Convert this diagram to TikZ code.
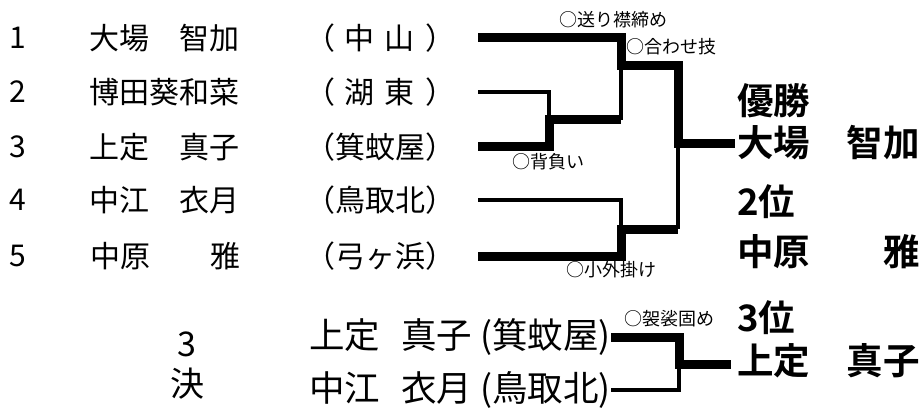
\documentclass[tikz,border=0pt]{standalone}
\usepackage{fontspec}
\setmainfont{Noto Sans CJK JP}[BoldFont={Noto Sans CJK JP Bold}]
\usepackage{tikz}
\usetikzlibrary{positioning,calc}
\tikzset{
  entry/.style={font=\fontsize{30}{36}\selectfont, inner sep=0pt},
  pair/.style={font=\fontsize{35.5}{40}\selectfont, inner sep=0pt, anchor=east},
  result/.style={font=\fontsize{36.5}{44}\selectfont\bfseries, inner sep=0pt, anchor=west},
  waza/.style={font=\fontsize{18}{22}\selectfont, inner sep=0pt, anchor=west},
  win/.style={line width=9pt},
  lose/.style={line width=3.5pt},
}

\begin{document}
\begin{tikzpicture}[x=1pt,y=-1pt]
        \useasboundingbox (0,0) rectangle (924,409);

        % entries
        \node[entry] (n1) at (18,38) {1};
        \node[entry] (n2) at (18,92) {2};
        \node[entry] (n3) at (18,147) {3};
        \node[entry] (n4) at (18,200) {4};
        \node[entry] (n5) at (18,256) {5};
        \node[entry] (p1) at (164,38) {大場　智加};
        \node[entry] (p2) at (164,92) {博田葵和菜};
        \node[entry] (p3) at (164,147) {上定　真子};
        \node[entry] (p4) at (164,200) {中江　衣月};
        \node[entry] (p5) at (165,256) {中原　　雅};
        \node[entry] (s1) at (380,38) {（\hspace{10pt}中\hspace{10pt}山\hspace{10pt}）};
        \node[entry] (s2) at (380,92) {（\hspace{10pt}湖\hspace{10pt}東\hspace{10pt}）};
        \node[entry] (s3) at (380,147) {（箕蚊屋）};
        \node[entry] (s4) at (380,200) {（鳥取北）};
        \node[entry] (s5) at (380,256) {（弓ヶ浜）};

        \coordinate (l1) at (478,38);
        \coordinate (l2) at (478,92);
        \coordinate (l3) at (478,147);
        \coordinate (l4) at (478,200);
        \coordinate (l5) at (478,256);
        \coordinate (a23) at (549,120);
        \coordinate (b23) at (621,120);
        \coordinate (a1) at (621,66);
        \coordinate (c1) at (678,66);
        \coordinate (a45) at (621,229);
        \coordinate (c45) at (678,229);
        \coordinate (fin) at (678,144);
        \coordinate (champ) at (735,144);

        \draw[lose] (l2) -| (a23);
        \draw[win] (l3) -| (a23) -- (b23);
        \draw[lose] (b23) -- (a1);
        \draw[win] (l1) -| (a1) -- (c1) -- (fin) -- (champ);
        \draw[lose] (l4) -| (a45);
        \draw[win] (l5) -| (a45) -- (c45);
        \draw[lose] (c45) -- (fin);

        \node[waza] (w1) at (559,20) {○送り襟締め};
        \node[waza] (w2) at (626,47) {○合わせ技};
        \node[waza] (w3) at (512,162) {○背負い};
        \node[waza] (w4) at (566,270) {○小外掛け};

        % results
        \node[result] (r1) at (737,101) {優勝};
        \node[result] (r1n) at (737,143) {大場　智加};
        \node[result] (r2) at (737,202) {2位};
        \node[result] (r2n) at (737,252) {中原　　雅};
        \node[result] (r3) at (737,318) {3位};
        \node[result] (r3n) at (737,361) {上定　真子};

        % 3rd place
        \node[font=\fontsize{34}{40}\selectfont, inner sep=0pt] (k1) at (187,344) {3};
        \node[font=\fontsize{34}{40}\selectfont, inner sep=0pt] (k2) at (187,384) {決};
        \node[pair] (t1) at (611,337) {上定\hspace{21pt}真子 (箕蚊屋)};
        \node[pair] (t2) at (611,390) {中江\hspace{21pt}衣月 (鳥取北)};
        \coordinate (ta) at (679,364);
        \coordinate (tb) at (731,364);
        \draw[win] (t1.east) -| (ta) -- (tb);
        \draw[lose] (t2.east) -| (ta);
        \node[waza] (w5) at (624,319) {○袈裟固め};
      \end{tikzpicture}
\end{document}
